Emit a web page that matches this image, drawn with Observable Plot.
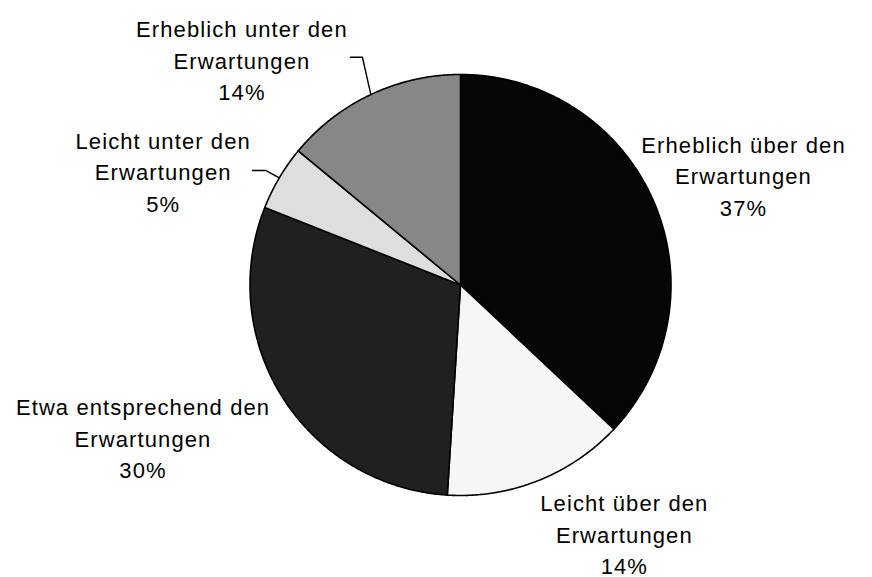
<!DOCTYPE html>
<html><head><meta charset="utf-8">
<script src="https://cdn.jsdelivr.net/npm/d3@7"></script>
<script src="https://cdn.jsdelivr.net/npm/@observablehq/plot@0.6"></script>
<style>
html,body{margin:0;padding:0;background:#fff;}
#chart svg text{letter-spacing:1.1px;}
</style></head><body><div id="chart"></div>
<script>
// ---- data ----
const categories = ["Erheblich über den Erwartungen", "Leicht über den Erwartungen", "Etwa entsprechend den Erwartungen", "Leicht unter den Erwartungen", "Erheblich unter den Erwartungen"];
const labelLines = [["Erheblich über den", "Erwartungen"], ["Leicht über den", "Erwartungen"], ["Etwa entsprechend den", "Erwartungen"], ["Leicht unter den", "Erwartungen"], ["Erheblich unter den", "Erwartungen"]];
const values = [37, 14, 30, 5, 14];
const colors = ["#060606", "#f6f6f6", "#202020", "#dedede", "#878787"];

// ---- layout (label placement relative to slice mid-angle, radius in pie radii) ----
const labelAngleOffset = [2, -11.9, 6.9, -9.5, -18.8];
const labelRadius = [1.444, 1.41, 1.671, 1.514, 1.495];
const leaderBends = {3: [[-0.926, -0.544], [-0.988, -0.544]], 4: [[-0.466, -1.082], [-0.523, -1.082]]};

const pt = (a, r = 1) => [r * Math.sin(a), -r * Math.cos(a)];
const arcs = d3.pie().sort(null).value(d => d)(values);

const slices = arcs.map((a, i) => {
  const ring = [[0, 0]];
  const n = Math.max(2, Math.ceil((a.endAngle - a.startAngle) / (Math.PI / 360)));
  for (let k = 0; k <= n; k++) ring.push(pt(a.startAngle + (a.endAngle - a.startAngle) * k / n));
  ring.push([0, 0]);
  return {type: "Feature", properties: {category: categories[i], color: colors[i]}, geometry: {type: "Polygon", coordinates: [ring]}};
});
const pieFC = {type: "FeatureCollection", features: slices};

const labels = arcs.map((a, i) => {
  const mid = (a.startAngle + a.endAngle) / 2 + labelAngleOffset[i] * Math.PI / 180;
  const [x, y] = pt(mid, labelRadius[i]);
  return {x, y, text: labelLines[i].join("\n") + "\n" + values[i] + "%"};
});

const leaders = Object.entries(leaderBends).map(([i, bends]) => {
  const a = arcs[+i];
  return {type: "Feature", properties: {}, geometry: {type: "LineString", coordinates: [pt((a.startAngle + a.endAngle) / 2), ...bends]}};
});

const chart = Plot.plot({
  width: 872,
  height: 577,
  marginLeft: 249.5,
  marginRight: 201.5,
  marginTop: 74,
  marginBottom: 82,
  projection: {type: "identity", domain: pieFC, clip: false},
  color: {type: "identity"},
  style: {background: "#fff", fontFamily: "'Liberation Sans', Arial, sans-serif"},
  marks: [
    Plot.geo(slices, {fill: d => d.properties.color, stroke: "#000", strokeWidth: 1.6}),
    Plot.geo(leaders, {stroke: "#000", strokeWidth: 1.4, fill: "none"}),
    Plot.text(labels, {x: "x", y: "y", text: "text", fontSize: 22, lineHeight: 1.44, fill: "#000", textAnchor: "middle", fontFamily: "'Liberation Sans', Arial, sans-serif"})
  ]
});
document.getElementById("chart").appendChild(chart);
</script>
</body></html>
